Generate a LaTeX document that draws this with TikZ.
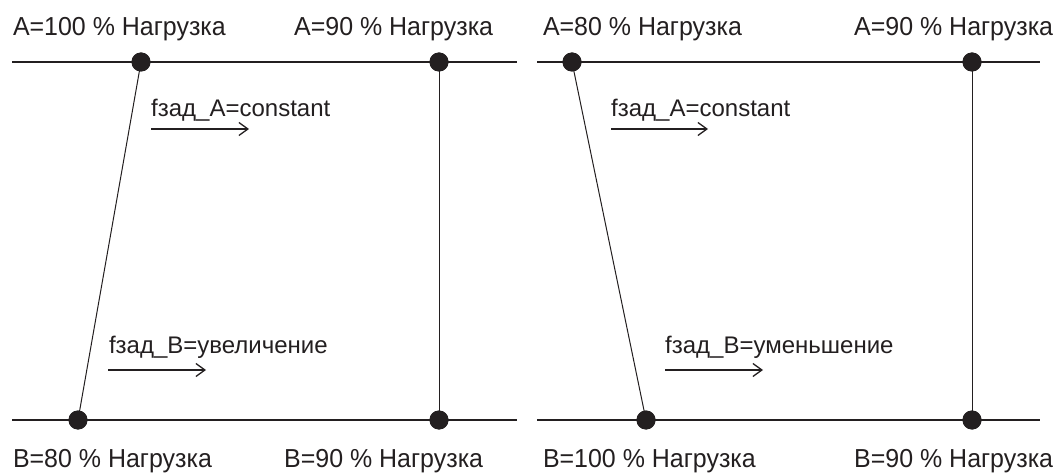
\documentclass[tikz,border=0pt]{standalone}
\usepackage{fontspec}
\setmainfont{Liberation Sans}
\newfontfamily\narrowsans[FakeStretch=0.96]{Liberation Sans}
\usetikzlibrary{arrows.meta}
\definecolor{ink}{HTML}{231F20}
\begin{document}
\begin{tikzpicture}[x=1pt,y=-1pt,
  dotnode/.style={circle,fill=ink,draw=none,minimum size=19pt,inner sep=0pt},
  biglabel/.style={anchor=base west,inner sep=0pt,text=ink,font=\narrowsans\fontsize{26}{30}\selectfont},
  smalllabel/.style={anchor=base west,inner sep=0pt,text=ink,font=\fontsize{24}{28}\selectfont},
  railline/.style={draw=ink,line width=1.3pt},
  tieline/.style={draw=ink,line width=1pt},
  dirarrow/.style={draw=ink,line width=1.3pt,-{Straight Barb[length=9pt,width=13pt,line width=1.3pt]}}]
\useasboundingbox (0,0) rectangle (1061,473);
% rail end points
\coordinate (LT1) at (12,62);   \coordinate (LT2) at (517,62);
\coordinate (LB1) at (12,420);  \coordinate (LB2) at (517,420);
\coordinate (RT1) at (537,62);  \coordinate (RT2) at (1040,62);
\coordinate (RB1) at (537,420); \coordinate (RB2) at (1040,420);
\draw[railline] (LT1) -- (LT2);
\draw[railline] (LB1) -- (LB2);
\draw[railline] (RT1) -- (RT2);
\draw[railline] (RB1) -- (RB2);
% dots
\node[dotnode] (la) at (141,62) {};
\node[dotnode] (lb) at (439,62) {};
\node[dotnode] (lc) at (78,420) {};
\node[dotnode] (ld) at (439,420) {};
\node[dotnode] (ra) at (572,62) {};
\node[dotnode] (rb) at (972,62) {};
\node[dotnode] (rc) at (646,420) {};
\node[dotnode] (rd) at (972,420) {};
% ties
\draw[tieline] (la.center) -- (lc.center);
\draw[tieline] (lb.center) -- (ld.center);
\draw[tieline] (ra.center) -- (rc.center);
\draw[tieline] (rb.center) -- (rd.center);
% redraw dots on top
\foreach \n in {la,lb,lc,ld,ra,rb,rc,rd} \fill[ink] (\n.center) circle (9.5pt);
% labels
\node[biglabel] (t1) at (12.8,35.5) {A=100 \% Нагрузка};
\node[biglabel] (t2) at (294,35.5) {A=90 \% Нагрузка};
\node[biglabel] (t3) at (542.8,35.5) {A=80 \% Нагрузка};
\node[biglabel] (t4) at (854,35.5) {A=90 \% Нагрузка};
\node[biglabel] (b1) at (12.8,467) {B=80 \% Нагрузка};
\node[biglabel] (b2) at (284,467) {B=90 \% Нагрузка};
\node[biglabel] (b3) at (542.8,467) {B=100 \% Нагрузка};
\node[biglabel] (b4) at (854,467) {B=90 \% Нагрузка};
\node[smalllabel] (fa1) at (151,117) {fзад\_A=constant};
\node[smalllabel] (fa2) at (611,117) {fзад\_A=constant};
\node[smalllabel] (fb1) at (108.8,353) {fзад\_B=увеличение};
\node[smalllabel] (fb2) at (665,353) {fзад\_B=уменьшение};
% arrows
\coordinate (a1s) at (151,129); \coordinate (a1e) at (249,129);
\coordinate (a2s) at (611,129); \coordinate (a2e) at (708,129);
\coordinate (a3s) at (108,370); \coordinate (a3e) at (206,370);
\coordinate (a4s) at (665,370); \coordinate (a4e) at (763,370);
\draw[dirarrow] (a1s) -- (a1e);
\draw[dirarrow] (a2s) -- (a2e);
\draw[dirarrow] (a3s) -- (a3e);
\draw[dirarrow] (a4s) -- (a4e);
\end{tikzpicture}
\end{document}
